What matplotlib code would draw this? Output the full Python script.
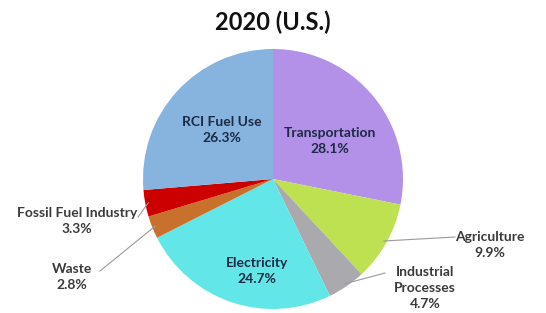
import numpy as np
import matplotlib
matplotlib.use("Agg")
import matplotlib.pyplot as plt

categories = ["Transportation", "Agriculture", "Industrial\nProcesses", "Electricity",
              "Waste", "Fossil Fuel Industry", "RCI Fuel Use"]
shares = [28.1, 9.9, 4.7, 24.7, 2.8, 3.3, 26.3]
colors = ["#b391e8", "#bde151", "#a9a9ae", "#63e6e8", "#c8712d", "#cc0000", "#87b3df"]

# label placement (pixels, y from bottom) and whether the label sits inside the slice
label_pos = [(330, 172), (490, 68), (425, 25), (257, 42), (72, 36), (77, 92), (222, 183)]
inside = [True, False, False, True, False, False, True]
line_end = [None, (455, 76), (385, 40), None, (100, 42), (138, 96), None]

plt.rcParams['font.family'] = ['Lato', 'DejaVu Sans']

fig = plt.figure(figsize=(5.46, 3.13), dpi=100)
ax = fig.add_axes([0, 0, 1, 1])

cx, cy, r = 273, 134, 130
wedges, _ = ax.pie(shares, colors=colors, startangle=90, counterclock=False,
                   center=(cx, cy), radius=r, frame=True,
                   wedgeprops=dict(linewidth=0))
ax.set_xlim(0, 546)
ax.set_ylim(0, 313)
ax.set_aspect("equal")
ax.axis("off")

for w, name, val, pos, ins, le in zip(wedges, categories, shares, label_pos, inside, line_end):
    txt = f"{name}\n{val}%"
    if ins:
        ax.text(pos[0], pos[1], txt, ha="center", va="center", fontsize=10,
                fontweight="bold", color="#1c2a45", linespacing=1.4)
    else:
        ax.text(pos[0], pos[1], txt, ha="center", va="center", fontsize=10,
                fontweight="bold", color="#3a3a3a", linespacing=1.35)
        mid = np.deg2rad((w.theta1 + w.theta2) / 2)
        sx, sy = cx + (r - 3) * np.cos(mid), cy + (r - 3) * np.sin(mid)
        ax.plot([sx, le[0]], [sy, le[1]], color="#9a9a9a", linewidth=0.8)

fig.text(0.5, 0.93, "2020 (U.S.)", ha="center", va="center", fontsize=17,
         fontweight="bold", color="#111111")

fig.savefig("out.png", dpi=100)
